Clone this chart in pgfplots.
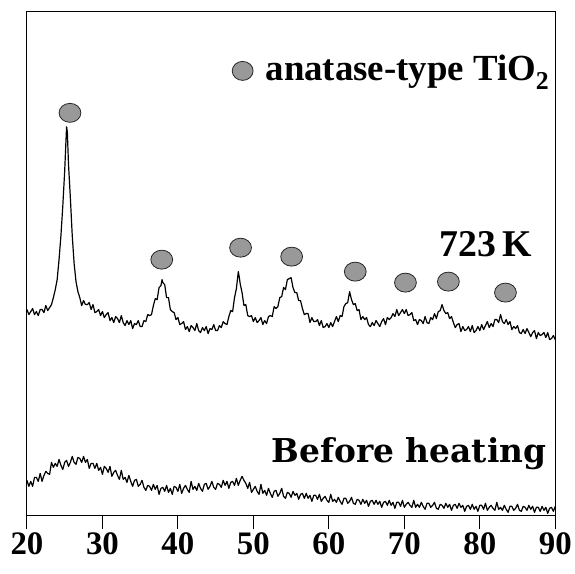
\documentclass[border=0pt]{standalone}
\usepackage{fontspec}
\setmainfont{Liberation Serif}
\newfontfamily\dejavu{DejaVu Serif}
\usepackage{pgfplots}
\pgfplotsset{compat=1.18}
\usepackage{pgfplotstable}

% XRD pattern after heating at 723 K (arbitrary intensity units)
\pgfplotstableread{
x y
20.00 206
20.25 201
20.50 204
20.75 207
21.00 201
21.25 204
21.50 200
21.75 206
22.00 206
22.25 203
22.50 210
22.75 205
23.00 208
23.25 211
23.50 218
23.75 226
24.00 236
24.25 256
24.50 280
24.75 310
25.00 345
25.15 372
25.25 389
25.35 384
25.50 352
25.75 318
26.00 280
26.25 252
26.50 234
26.75 224
27.00 218
27.25 210
27.50 215
27.75 211
28.00 211
28.25 213
28.50 206
28.75 211
29.00 203
29.25 204
29.50 206
29.75 200
30.00 204
30.25 198
30.50 201
30.75 203
31.00 195
31.25 198
31.50 193
31.75 199
32.00 197
32.25 193
32.50 200
32.75 193
33.00 190
33.25 195
33.50 191
33.75 195
34.00 187
34.25 192
34.50 191
34.75 195
35.00 189
35.25 189
35.50 195
35.75 194
36.00 201
36.25 200
36.50 201
36.75 210
37.00 217
37.25 216
37.50 228
37.75 230
37.90 236
38.00 233
38.25 231
38.50 218
38.75 218
39.00 206
39.25 204
39.50 203
39.75 196
40.00 198
40.25 191
40.50 192
40.75 194
41.00 186
41.25 189
41.50 184
41.75 190
42.00 188
42.25 185
42.50 192
42.75 185
43.00 183
43.25 188
43.50 185
43.75 189
44.00 182
44.25 187
44.50 186
44.75 191
45.00 185
45.25 185
45.50 190
45.75 188
46.00 194
46.25 192
46.50 191
46.75 199
47.00 205
47.25 204
47.50 218
47.75 227
48.00 244
48.10 240
48.25 232
48.50 223
48.75 210
49.00 211
49.25 200
49.50 199
49.75 200
50.00 194
50.25 198
50.50 193
50.75 195
51.00 198
51.25 191
51.50 195
51.75 192
52.00 199
52.25 200
52.50 199
52.75 209
53.00 207
53.25 209
53.50 218
53.75 219
54.00 228
54.25 226
54.50 236
54.75 237
55.00 238
55.25 228
55.50 223
55.75 223
56.00 215
56.25 215
56.50 207
56.75 201
57.00 202
57.25 202
57.50 193
57.75 198
58.00 194
58.25 194
58.50 196
58.75 190
59.00 195
59.25 188
59.50 189
59.75 192
60.00 188
60.25 193
60.50 189
60.75 194
61.00 199
61.25 194
61.50 200
61.75 199
62.00 209
62.25 212
62.50 213
62.75 224
63.00 216
63.25 211
63.50 212
63.75 205
64.00 206
64.25 196
64.50 199
64.75 196
65.00 198
65.25 191
65.50 189
65.75 193
66.00 190
66.25 195
66.50 192
66.75 189
67.00 194
67.25 197
67.50 191
67.75 198
68.00 196
68.25 198
68.50 202
68.75 199
69.00 206
69.25 200
69.50 203
69.75 206
70.00 202
70.25 206
70.50 200
70.75 201
71.00 203
71.25 195
71.50 196
71.75 191
72.00 196
72.25 195
72.50 192
72.75 199
73.00 193
73.25 192
73.50 198
73.75 196
74.00 202
74.25 197
74.50 204
74.75 205
75.00 211
75.25 205
75.50 202
75.75 203
76.00 197
76.25 199
76.50 193
76.75 188
77.00 191
77.25 192
77.50 184
77.75 189
78.00 185
78.25 186
78.50 189
78.75 184
79.00 190
79.25 183
79.50 185
79.75 189
80.00 185
80.25 191
80.50 186
80.75 190
81.00 194
81.25 188
81.50 192
81.75 189
82.00 196
82.25 196
82.50 193
82.75 201
83.00 194
83.25 192
83.50 196
83.75 191
84.00 194
84.25 186
84.50 189
84.75 187
85.00 190
85.25 183
85.50 182
85.75 186
86.00 182
86.25 187
86.50 183
86.75 179
87.00 183
87.25 185
87.50 177
87.75 183
88.00 180
88.25 181
88.50 183
88.75 178
89.00 183
89.25 176
89.50 177
89.75 180
90.00 176
}\heated

% before heating (amorphous)
\pgfplotstableread{
x y
20.00 35
20.25 29
20.50 34
20.75 29
21.00 38
21.25 38
21.50 34
21.75 42
22.00 34
22.25 40
22.50 44
22.75 42
23.00 41
23.25 53
23.50 48
23.75 52
24.00 49
24.25 56
24.50 50
24.75 46
25.00 53
25.25 55
25.50 49
25.75 53
26.00 59
26.25 53
26.50 51
26.75 58
27.00 57
27.25 53
27.50 59
27.75 53
28.00 56
28.25 47
28.50 52
28.75 52
29.00 47
29.25 52
29.50 45
29.75 48
30.00 41
30.25 49
30.50 47
30.75 43
31.00 49
31.25 39
31.50 43
31.75 45
32.00 40
32.25 36
32.50 45
32.75 36
33.00 38
33.25 33
33.50 40
33.75 34
34.00 29
34.25 35
34.50 36
34.75 29
35.00 31
35.25 35
35.50 28
35.75 25
36.00 30
36.25 29
36.50 25
36.75 31
37.00 26
37.25 30
37.50 21
37.75 27
38.00 28
38.25 24
38.50 30
38.75 23
39.00 27
39.25 21
39.50 29
39.75 28
40.00 24
40.25 31
40.50 22
40.75 27
41.00 30
41.25 26
41.50 23
41.75 34
42.00 26
42.25 29
42.50 25
42.75 32
43.00 27
43.25 24
43.50 31
43.75 32
44.00 26
44.25 29
44.50 34
44.75 28
45.00 26
45.25 32
45.50 31
45.75 28
46.00 35
46.25 30
46.50 34
46.75 27
47.00 33
47.25 34
47.50 30
47.75 37
48.00 30
48.25 35
48.50 39
48.75 35
49.00 32
49.25 27
49.50 33
49.75 23
50.00 26
50.25 29
50.50 24
50.75 21
51.00 31
51.25 22
51.50 25
51.75 20
52.00 27
52.25 22
52.50 18
52.75 24
53.00 25
53.25 19
53.50 22
53.75 27
54.00 19
54.25 17
54.50 23
54.75 22
55.00 18
55.25 24
55.50 20
55.75 22
56.00 16
56.25 21
56.50 22
56.75 17
57.00 22
57.25 17
57.50 20
57.75 14
58.00 20
58.25 20
58.50 16
58.75 21
59.00 14
59.25 17
59.50 19
59.75 15
60.00 13
60.25 21
60.50 14
60.75 16
61.00 13
61.25 18
61.50 14
61.75 11
62.00 17
62.25 17
62.50 12
62.75 14
63.00 18
63.25 12
63.50 11
63.75 16
64.00 15
64.25 11
64.50 16
64.75 12
65.00 15
65.25 9
65.50 14
65.75 15
66.00 11
66.25 15
66.50 11
66.75 14
67.00 8
67.25 13
67.50 14
67.75 10
68.00 15
68.25 10
68.50 13
68.75 7
69.00 13
69.25 13
69.50 9
69.75 15
70.00 8
70.25 11
70.50 13
70.75 10
71.00 8
71.25 15
71.50 8
71.75 11
72.00 8
72.25 13
72.50 9
72.75 6
73.00 12
73.25 12
73.50 8
73.75 10
74.00 13
74.25 7
74.50 6
74.75 11
75.00 10
75.25 7
75.50 12
75.75 8
76.00 11
76.25 5
76.50 10
76.75 11
77.00 7
77.25 12
77.50 8
77.75 10
78.00 4
78.25 9
78.50 10
78.75 6
79.00 11
79.25 6
79.50 9
79.75 4
80.00 10
80.25 10
80.50 6
80.75 12
81.00 5
81.25 8
81.50 10
81.75 7
82.00 5
82.25 13
82.50 6
82.75 8
83.00 5
83.25 10
83.50 6
83.75 3
84.00 9
84.25 9
84.50 5
84.75 7
85.00 11
85.25 5
85.50 4
85.75 9
86.00 8
86.25 5
86.50 10
86.75 6
87.00 9
87.25 3
87.50 8
87.75 8
88.00 4
88.25 9
88.50 5
88.75 8
89.00 2
89.25 7
89.50 8
89.75 4
90.00 9
}\unheated

\begin{document}
\begin{tikzpicture}
\begin{axis}[
    scale only axis,
    width=529bp, height=504bp,
    xmin=20, xmax=90, ymin=0, ymax=504,
    xtick={20,30,...,90}, ytick=\empty,
    xtick pos=bottom, tick align=outside,
    major tick length=14bp,
    axis line style={line width=1bp},
    every tick/.style={black, line width=1bp},
    /pgf/number format/assume math mode=true,
    xticklabel style={font=\fontsize{33}{33}\selectfont\bfseries},
    clip=false,
]
    \addplot[black, line width=1.2bp, line join=round] table[x=x, y=y] {\heated};
    \addplot[black, line width=1.2bp, line join=round] table[x=x, y=y] {\unheated};

    % anatase peak markers
    \addplot[only marks, mark=*, mark size=9.5bp,
        mark options={fill=gray!80, draw=black!85, line width=0.8bp, xscale=1.15}]
        coordinates {(25.7,403) (37.86,256) (48.3,268) (55.07,259)
                     (63.5,244) (70.15,233) (75.84,234) (83.4,223)};
    % legend marker
    \addplot[only marks, mark=*, mark size=9.5bp,
        mark options={fill=gray!80, draw=black!85, line width=0.8bp, xscale=1.1}]
        coordinates {(48.58,445)};

    \node[anchor=base west, inner sep=0pt, font=\fontsize{37}{37}\selectfont\bfseries]
        at (axis cs:51.6,435) {anatase-type TiO\textsubscript{2}};
    \node[anchor=base west, inner sep=0pt, font=\fontsize{38}{38}\selectfont\bfseries]
        at (axis cs:74.65,259) {723\,K};
    \node[anchor=base west, inner sep=0pt, font=\dejavu\fontsize{33}{33}\selectfont\bfseries]
        at (axis cs:52.4,53) {Before heating};
\end{axis}
\path[use as bounding box] ([shift={(-27bp,-58bp)}]current axis.south west)
    rectangle ([shift={(19bp,12bp)}]current axis.north east);
\end{tikzpicture}
\end{document}
